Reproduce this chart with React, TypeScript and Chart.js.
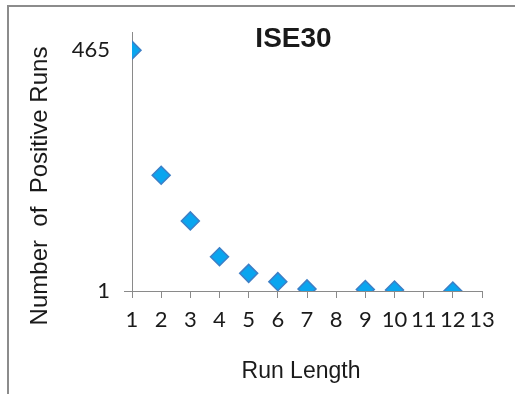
import React, { useEffect, useRef } from "react";
import { Chart, registerables } from "chart.js";

Chart.register(...registerables);

const runLengths = [1, 2, 3, 4, 5, 6, 7, 9, 10, 12];
const positiveRuns = [465, 224, 136, 67, 35, 19, 5, 4, 3, 1];
const yTickValues = [1, 465];
const chartTitle = "ISE30";
const xTitle = "Run Length";
const yTitle = "Number  of  Positive Runs";

const AXIS_GRAY = "#8a8a8a";
const TEXT = "#1a1a1a";

const textPlugin = {
  id: "textPlugin",
  afterDraw(chart: any) {
    const ctx = chart.ctx;
    ctx.save();
    ctx.fillStyle = TEXT;
    ctx.textAlign = "center";
    ctx.textBaseline = "alphabetic";
    ctx.font = "bold 28px 'Liberation Sans', Arial, sans-serif";
    ctx.fillText(chartTitle, 293.5, 46.7);
    ctx.font = "23px 'Liberation Sans', Arial, sans-serif";
    ctx.fillText(xTitle, 301, 378.3);
    ctx.translate(46.5, 186);
    ctx.rotate(-Math.PI / 2);
    ctx.font = "24px 'Liberation Sans', Arial, sans-serif";
    ctx.fillText(yTitle, 0, 0);
    ctx.restore();
  },
};

export default function App() {
  const ref = useRef<HTMLCanvasElement | null>(null);

  useEffect(() => {
    if (!ref.current) return;
    const chart = new Chart(ref.current, {
      type: "scatter",
      data: {
        datasets: [
          {
            data: runLengths.map((x, i) => ({ x, y: positiveRuns[i] })),
            pointStyle: "rectRot",
            pointRadius: 9,
            backgroundColor: "#0aa5ef",
            borderColor: "#3d7fc6",
            borderWidth: 1.5,
          },
        ],
      },
      options: {
        responsive: false,
        animation: false,
        layout: { padding: { top: 32, right: 33, left: 0, bottom: 0 } },
        plugins: {
          legend: { display: false },
          title: { display: false },
          tooltip: { enabled: false },
        },
        scales: {
          x: {
            type: "linear",
            min: 1,
            max: 13,
            afterFit: (s: any) => {
              s.height = 103;
            },
            ticks: {
              stepSize: 1,
              autoSkip: false,
              maxRotation: 0,
              minRotation: 0,
              color: TEXT,
              padding: 9,
              font: { family: "Lato, 'Open Sans', sans-serif", size: 22 },
            },
            grid: {
              drawOnChartArea: false,
              drawTicks: true,
              tickLength: 7,
              color: AXIS_GRAY,
            },
            border: { color: AXIS_GRAY, width: 1 },
          },
          y: {
            type: "linear",
            min: 1,
            max: 500,
            afterFit: (s: any) => {
              s.width = 132;
            },
            afterBuildTicks: (s: any) => {
              s.ticks = yTickValues.map((v) => ({ value: v }));
            },
            ticks: {
              color: TEXT,
              padding: 14,
              font: { family: "Lato, 'Open Sans', sans-serif", size: 22 },
            },
            grid: {
              drawOnChartArea: false,
              drawTicks: true,
              tickLength: 8,
              color: (c: any) =>
                c.tick && c.tick.value === 1 ? AXIS_GRAY : "rgba(0,0,0,0)",
            },
            border: { color: AXIS_GRAY, width: 1 },
          },
        },
      },
      plugins: [textPlugin],
    });
    return () => chart.destroy();
  }, []);

  return (
    <div
      style={{
        position: "absolute",
        left: 0,
        top: 0,
        width: 515,
        height: 394,
        background: "#fff",
        overflow: "hidden",
      }}
    >
      <div
        style={{
          position: "absolute",
          left: 7,
          top: 5,
          right: 0,
          bottom: 0,
          borderLeft: "2px solid #8c8c8c",
          borderTop: "2px solid #8c8c8c",
        }}
      />
      <canvas
        ref={ref}
        width={515}
        height={394}
        style={{ position: "absolute", left: 0, top: 0, display: "block" }}
      />
    </div>
  );
}
